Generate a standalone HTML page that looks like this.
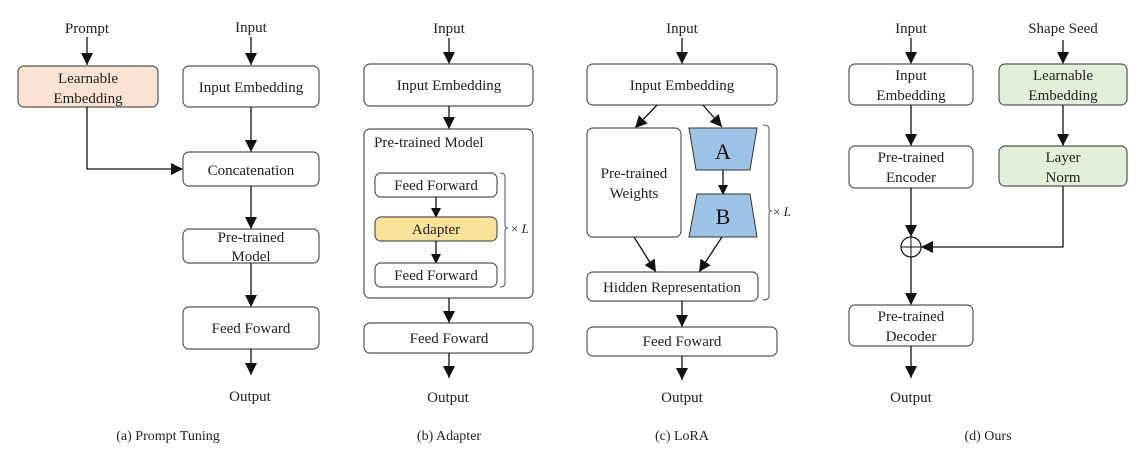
<!DOCTYPE html>
<html><head><style>
html,body{margin:0;padding:0;background:#fff;}
svg{display:block;}
text{font-family:"Liberation Serif",serif;font-size:15px;fill:#222;text-anchor:middle;}
.b{fill:#fff;stroke:#555;stroke-width:1.2;}
.l{stroke:#111;stroke-width:1.3;fill:none;}
</style></head><body>
<svg width="1141" height="456" viewBox="0 0 1141 456" xmlns="http://www.w3.org/2000/svg">
<defs><marker id="a" markerWidth="10" markerHeight="10" refX="9" refY="5" orient="auto" markerUnits="userSpaceOnUse"><path d="M0,0 L10,5 L0,10 z" fill="#111"/></marker>
<marker id="ah" viewBox="0 0 10 10" markerWidth="12" markerHeight="14" refX="10" refY="5" orient="auto" markerUnits="userSpaceOnUse"><path d="M0,0 L10,5 L0,10 z" fill="#111"/></marker></defs>

<!-- (a) -->
<text x="87" y="33">Prompt</text>
<text x="251" y="32">Input</text>
<line class="l" x1="87" y1="37" x2="87" y2="65" marker-end="url(#ah)"/>
<line class="l" x1="251" y1="37" x2="251" y2="65" marker-end="url(#ah)"/>
<rect x="18" y="66" width="140" height="41" rx="6" fill="#fbe3d4" stroke="#555" stroke-width="1.2"/>
<text x="88" y="83">Learnable</text><text x="88" y="103">Embedding</text>
<rect class="b" x="183" y="66" width="136" height="41" rx="6"/>
<text x="251" y="92">Input Embedding</text>
<line class="l" x1="251" y1="107" x2="251" y2="152" marker-end="url(#ah)"/>
<polyline class="l" points="87,107 87,169 183,169" marker-end="url(#ah)"/>
<rect class="b" x="183" y="152" width="136" height="34" rx="6"/>
<text x="251" y="175">Concatenation</text>
<line class="l" x1="251" y1="186" x2="251" y2="229" marker-end="url(#ah)"/>
<rect class="b" x="183" y="229" width="136" height="34" rx="6"/>
<text x="251" y="242">Pre-trained</text><text x="251" y="261">Model</text>
<line class="l" x1="251" y1="263" x2="251" y2="307" marker-end="url(#ah)"/>
<rect class="b" x="183" y="307" width="136" height="42" rx="6"/>
<text x="251" y="333">Feed Foward</text>
<line class="l" x1="251" y1="349" x2="251" y2="375" marker-end="url(#ah)"/>
<text x="250" y="401">Output</text>
<text x="168" y="440" style="font-size:14px">(a) Prompt Tuning</text>

<!-- (b) -->
<text x="449" y="33">Input</text>
<line class="l" x1="449" y1="38" x2="449" y2="64" marker-end="url(#ah)"/>
<rect class="b" x="364" y="64" width="169" height="42" rx="6"/>
<text x="449" y="90">Input Embedding</text>
<line class="l" x1="449" y1="106" x2="449" y2="129" marker-end="url(#ah)"/>
<rect class="b" x="364" y="129" width="169" height="169" rx="6"/>
<text x="374" y="147" style="text-anchor:start">Pre-trained Model</text>
<rect class="b" x="375" y="173" width="122" height="24" rx="6"/>
<text x="436" y="190">Feed Forward</text>
<line class="l" x1="436" y1="197" x2="436" y2="217" marker-end="url(#a)"/>
<rect x="375" y="217" width="122" height="24" rx="6" fill="#fde29a" stroke="#555" stroke-width="1.2"/>
<text x="436" y="234">Adapter</text>
<line class="l" x1="436" y1="241" x2="436" y2="263" marker-end="url(#a)"/>
<rect class="b" x="375" y="263" width="122" height="24" rx="6"/>
<text x="436" y="280">Feed Forward</text>
<path d="M500,173 q5,0 5,4 v48 q0,3 3,3 q-3,0 -3,3 v52 q0,4 -5,4" fill="none" stroke="#555" stroke-width="1"/>
<text x="511" y="233" style="text-anchor:start;font-size:13px">× <tspan style="font-style:italic">L</tspan></text>
<line class="l" x1="449" y1="298" x2="449" y2="323" marker-end="url(#ah)"/>
<rect class="b" x="364" y="323" width="169" height="30" rx="6"/>
<text x="449" y="343">Feed Foward</text>
<line class="l" x1="449" y1="353" x2="449" y2="378" marker-end="url(#ah)"/>
<text x="448" y="402">Output</text>
<text x="449" y="440" style="font-size:14px">(b) Adapter</text>

<!-- (c) -->
<text x="682" y="33">Input</text>
<line class="l" x1="682" y1="38" x2="682" y2="64" marker-end="url(#ah)"/>
<rect class="b" x="587" y="64" width="190" height="41" rx="6"/>
<text x="682" y="90">Input Embedding</text>
<line class="l" x1="657" y1="105" x2="635" y2="128" marker-end="url(#ah)"/>
<line class="l" x1="703" y1="105" x2="722" y2="127" marker-end="url(#ah)"/>
<rect class="b" x="587" y="128" width="94" height="109" rx="6"/>
<text x="634" y="178">Pre-trained</text><text x="634" y="198">Weights</text>
<polygon points="689,128 757,128 750,170 696,170" fill="#9dc3e6" stroke="#333" stroke-width="1"/>
<text x="723" y="159" style="font-size:22px;fill:#111">A</text>
<line class="l" x1="723" y1="170" x2="723" y2="194" marker-end="url(#a)"/>
<polygon points="697,194 750,194 757,237 689,237" fill="#9dc3e6" stroke="#333" stroke-width="1"/>
<text x="723" y="224" style="font-size:22px;fill:#111">B</text>
<line class="l" x1="634" y1="237" x2="656" y2="272" marker-end="url(#ah)"/>
<line class="l" x1="722" y1="237" x2="699" y2="272" marker-end="url(#ah)"/>
<rect class="b" x="587" y="272" width="171" height="29" rx="6"/>
<text x="672" y="292">Hidden Representation</text>
<path d="M763,125 q6,0 6,4 v79 q0,3 3,3 q-3,0 -3,3 v82 q0,4 -6,4" fill="none" stroke="#555" stroke-width="1"/>
<text x="773" y="216" style="text-anchor:start;font-size:13px">× <tspan style="font-style:italic">L</tspan></text>
<line class="l" x1="682" y1="301" x2="682" y2="327" marker-end="url(#ah)"/>
<rect class="b" x="587" y="327" width="190" height="29" rx="6"/>
<text x="682" y="346">Feed Foward</text>
<line class="l" x1="682" y1="356" x2="682" y2="380" marker-end="url(#ah)"/>
<text x="682" y="402">Output</text>
<text x="682" y="440" style="font-size:14px">(c) LoRA</text>

<!-- (d) -->
<text x="911" y="33">Input</text>
<text x="1063" y="33">Shape Seed</text>
<line class="l" x1="911" y1="38" x2="911" y2="64" marker-end="url(#ah)"/>
<line class="l" x1="1063" y1="40" x2="1063" y2="64" marker-end="url(#ah)"/>
<rect class="b" x="849" y="64" width="124" height="41" rx="6"/>
<text x="911" y="80">Input</text><text x="911" y="100">Embedding</text>
<rect x="999" y="64" width="128" height="41" rx="6" fill="#e2efd9" stroke="#555" stroke-width="1.2"/>
<text x="1063" y="80">Learnable</text><text x="1063" y="100">Embedding</text>
<line class="l" x1="911" y1="105" x2="911" y2="146" marker-end="url(#ah)"/>
<line class="l" x1="1063" y1="105" x2="1063" y2="146" marker-end="url(#ah)"/>
<rect class="b" x="849" y="146" width="124" height="42" rx="6"/>
<text x="911" y="162">Pre-trained</text><text x="911" y="182">Encoder</text>
<rect x="999" y="146" width="128" height="40" rx="6" fill="#e2efd9" stroke="#555" stroke-width="1.2"/>
<text x="1063" y="162">Layer</text><text x="1063" y="182">Norm</text>
<line class="l" x1="911" y1="188" x2="911" y2="237" marker-end="url(#ah)"/>
<circle cx="911" cy="247" r="10" fill="#fff" stroke="#111" stroke-width="1.2"/>
<line x1="901" y1="247" x2="921" y2="247" stroke="#111" stroke-width="1"/>
<line x1="911" y1="237" x2="911" y2="257" stroke="#111" stroke-width="1"/>
<polyline class="l" points="1063,186 1063,247 921,247" marker-end="url(#ah)"/>
<line class="l" x1="911" y1="257" x2="911" y2="305" marker-end="url(#ah)"/>
<rect class="b" x="849" y="305" width="124" height="41" rx="6"/>
<text x="911" y="321">Pre-trained</text><text x="911" y="341">Decoder</text>
<line class="l" x1="911" y1="346" x2="911" y2="378" marker-end="url(#ah)"/>
<text x="911" y="402">Output</text>
<text x="988" y="440" style="font-size:14px">(d) Ours</text>
</svg>
</body></html>
